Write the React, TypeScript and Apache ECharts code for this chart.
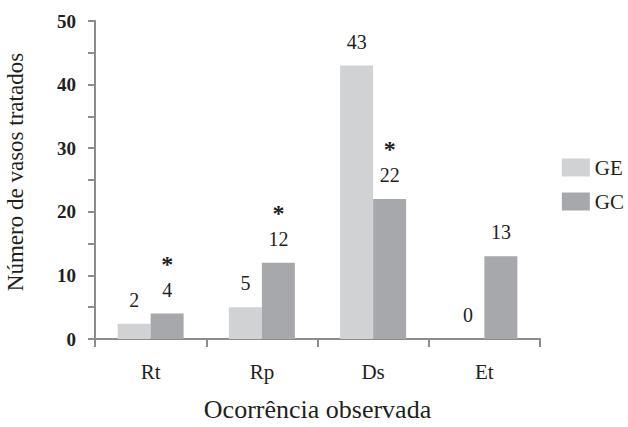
import React, { useEffect, useRef } from "react";
import * as echarts from "echarts";

const categories = ["Rt", "Rp", "Ds", "Et"];
const seriesGE = [2.4, 5, 43, 0];
const seriesGC = [4, 12, 22, 13];
const labelsGE = ["2", "5", "43", "0"];
const labelsGC = ["4", "12", "22", "13"];
const starsGC = [true, true, true, false];
const yTicks = [0, 10, 20, 30, 40, 50];

const FONT = "Liberation Serif";
const AXIS = "#8c8c8c";
const TEXT = "#231f20";

export default function App() {
  const ref = useRef<HTMLDivElement>(null);
  useEffect(() => {
    if (!ref.current) return;
    const chart = echarts.init(ref.current, undefined, { renderer: "svg" });
    const mkLabel = (labels: string[], stars: boolean[] | null) => ({
      show: true,
      position: "top",
      distance: 14,
      fontFamily: FONT,
      color: TEXT,
      formatter: (p: any) =>
        stars && stars[p.dataIndex]
          ? "{s|*}\n{n|" + labels[p.dataIndex] + "}"
          : "{n|" + labels[p.dataIndex] + "}",
      rich: {
        n: { fontSize: 20, lineHeight: 20, fontFamily: FONT, color: TEXT },
        s: {
          fontSize: 24,
          lineHeight: 32,
          fontWeight: "bold",
          fontFamily: FONT,
          color: TEXT,
        },
      },
    });
    chart.setOption({
      animation: false,
      textStyle: { fontFamily: FONT },
      grid: { left: 95, right: 88, top: 21, bottom: 88, outerBoundsMode: "none", containLabel: false },
      legend: {
        orient: "vertical",
        right: 4,
        top: 157,
        padding: 0,
        itemWidth: 28,
        itemHeight: 18,
        itemGap: 13,
        icon: "rect",
        textStyle: { fontFamily: FONT, fontSize: 21, color: TEXT, overflow: "none" },
        data: ["GE", "GC"],
      },
      xAxis: {
        type: "category",
        data: categories,
        name: "Ocorrência observada",
        nameLocation: "middle",
        nameGap: 57,
        nameTextStyle: { fontFamily: FONT, fontSize: 26, color: TEXT },
        axisLine: { lineStyle: { color: AXIS, width: 2 } },
        axisTick: { show: true, length: 8, lineStyle: { color: AXIS, width: 2 } },
        axisLabel: { fontFamily: FONT, fontSize: 21, color: TEXT, margin: 22 },
      },
      yAxis: {
        type: "value",
        min: yTicks[0],
        max: yTicks[yTicks.length - 1],
        interval: 10,
        name: "Número de vasos tratados",
        nameLocation: "middle",
        nameGap: 68,
        nameTextStyle: { fontFamily: FONT, fontSize: 23, color: TEXT, padding: [0, 0, 0, 16] },
        axisLine: { show: true, lineStyle: { color: AXIS, width: 2 } },
        axisTick: { show: true, length: 7, lineStyle: { color: AXIS, width: 2 } },
        minorTick: { show: true, splitNumber: 2, length: 7, lineStyle: { color: AXIS, width: 2 } },
        splitLine: { show: false },
        axisLabel: {
          fontFamily: FONT,
          fontSize: 19,
          fontWeight: "bold",
          color: TEXT,
          margin: 19,
        },
      },
      series: [
        {
          name: "GE",
          type: "bar",
          data: seriesGE,
          barWidth: 33,
          barGap: "0%",
          itemStyle: { color: "#d1d2d4" },
          label: mkLabel(labelsGE, null),
        },
        {
          name: "GC",
          type: "bar",
          data: seriesGC,
          barWidth: 33,
          barGap: "0%",
          itemStyle: { color: "#a7a8ab" },
          label: mkLabel(labelsGC, starsGC),
        },
      ],
    });
    return () => chart.dispose();
  }, []);
  return <div ref={ref} style={{ width: 628, height: 427, position: "absolute", left: 0, top: 0 }} />;
}
